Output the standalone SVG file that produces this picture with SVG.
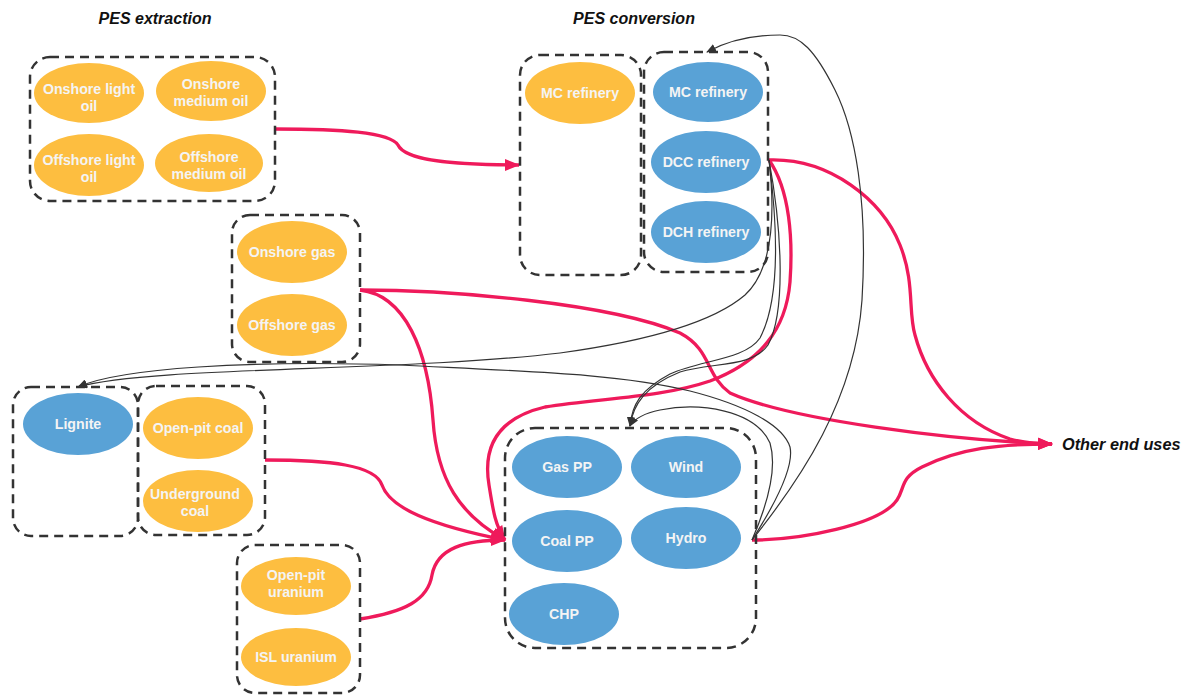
<svg xmlns="http://www.w3.org/2000/svg" width="1189" height="695" viewBox="0 0 1189 695">
<style>
.grp{fill:none;stroke:#333;stroke-width:2.5;stroke-dasharray:9 6}
.y{fill:#FDBE40}
.b{fill:#59A2D6}
.t{font-family:"Liberation Sans",Arial,sans-serif;font-weight:bold;font-size:14.2px;fill:#F4F4F4;text-anchor:middle}
.h{font-family:"Liberation Sans",Arial,sans-serif;font-weight:bold;font-style:italic;font-size:16px;fill:#111}
.r{fill:none;stroke:#EF1A5B;stroke-width:3.3}
.k{fill:none;stroke:#333;stroke-width:1.2}
</style>
<defs>
<marker id="ar" markerUnits="userSpaceOnUse" markerWidth="15" markerHeight="12" refX="14" refY="6" orient="auto"><path d="M0,0 L15,6 L0,12 z" fill="#EF1A5B"/></marker>
<marker id="ab" markerUnits="userSpaceOnUse" markerWidth="10" markerHeight="8" refX="9" refY="4" orient="auto"><path d="M0,0 L10,4 L0,8 z" fill="#333"/></marker>
</defs>
<rect width="1189" height="695" fill="#fff"/>
<text class="h" x="155" y="24" text-anchor="middle">PES extraction</text>
<text class="h" x="634" y="24" text-anchor="middle">PES conversion</text>
<text class="h" x="1062" y="450" style="font-size:16.3px">Other end uses</text>

<g id="connectors">
<path class="r" d="M275,129 C340,129 390,132 398,145 C405,160 450,165 519,165" marker-end="url(#ar)"/>
<path class="r" d="M769,160 C830,158 882,200 900,245 C915,282 908,312 915,335 C927,380 960,422 1010,439 C1025,443 1040,444 1052,444" marker-end="url(#ar)"/>
<path class="r" d="M769,160 C790,190 793,240 790,282 C786,330 760,362 710,381 C660,398 600,398 545,407 C490,420 484,455 489,485 C493,510 495,525 505,540" marker-end="url(#ar)"/>
<path class="r" d="M360,290 C450,290 610,303 680,333 C712,350 705,375 730,393 C790,420 950,440 1052,444" marker-end="url(#ar)"/>
<path class="r" d="M360,290 C405,295 428,350 433,420 C437,480 460,515 505,540" marker-end="url(#ar)"/>
<path class="r" d="M265,460 C330,460 375,465 382,485 C390,508 430,525 505,540" marker-end="url(#ar)"/>
<path class="r" d="M360,619 C405,612 428,600 432,575 C437,548 465,540 505,540" marker-end="url(#ar)"/>
<path class="r" d="M752,540 C800,540 880,525 897,500 C905,488 900,478 922,467 C960,448 1000,444 1052,444" marker-end="url(#ar)"/>

<path class="k" d="M769,160 C776,220 772,270 745,295 C710,325 640,342 560,353 C400,372 150,366 78,387" marker-end="url(#ab)"/>
<path class="k" d="M769,160 C778,230 780,300 760,338 C745,360 700,360 670,374 C640,390 632,405 630,426" marker-end="url(#ab)"/>
<path class="k" d="M769,160 C782,230 786,312 768,345 C752,368 712,362 680,372 C645,386 633,405 630,426"/>
<path class="k" d="M752,540 C765,510 778,470 770,443 C755,410 700,402 660,410 C645,413 635,418 630,426" marker-end="url(#ab)"/>
<path class="k" d="M752,540 C768,515 795,470 790,447 C783,425 745,405 690,391 C620,374 540,372 400,365 C250,360 120,368 78,387" marker-end="url(#ab)"/>
<path class="k" d="M752,540 C800,480 855,400 862,300 C868,200 855,130 835,90 C815,50 800,35 780,35 C750,35 725,42 707,52" marker-end="url(#ab)"/>
</g>

<g id="oil-group">
<rect class="grp" x="30" y="57" width="245" height="144" rx="20"/>
<g id="onshore-light-oil"><ellipse class="y" cx="89" cy="93" rx="55" ry="30"/><text class="t" x="89" y="94">Onshore light</text><text class="t" x="89" y="111">oil</text></g>
<g id="onshore-medium-oil"><ellipse class="y" cx="211" cy="91" rx="55" ry="30"/><text class="t" x="211" y="89">Onshore</text><text class="t" x="211" y="106">medium oil</text></g>
<g id="offshore-light-oil"><ellipse class="y" cx="89" cy="165" rx="55" ry="31"/><text class="t" x="89" y="165">Offshore light</text><text class="t" x="89" y="182">oil</text></g>
<g id="offshore-medium-oil"><ellipse class="y" cx="209" cy="163" rx="54" ry="29"/><text class="t" x="209" y="162">Offshore</text><text class="t" x="209" y="179">medium oil</text></g>
</g>

<g id="mc-refinery-extraction">
<rect class="grp" x="520" y="55" width="121" height="220" rx="20"/>
<ellipse class="y" cx="580" cy="93" rx="55" ry="31"/><text class="t" x="580" y="98">MC refinery</text>
</g>

<g id="refinery-group">
<rect class="grp" x="644" y="52" width="124" height="220" rx="20"/>
<g id="mc-refinery"><ellipse class="b" cx="708" cy="92" rx="55" ry="30"/><text class="t" x="708" y="97">MC refinery</text></g>
<g id="dcc-refinery"><ellipse class="b" cx="706" cy="162" rx="55" ry="31"/><text class="t" x="706" y="167">DCC refinery</text></g>
<g id="dch-refinery"><ellipse class="b" cx="706" cy="232" rx="55" ry="31"/><text class="t" x="706" y="237">DCH refinery</text></g>
</g>

<g id="gas-group">
<rect class="grp" x="232" y="215" width="128" height="147" rx="18"/>
<g id="onshore-gas"><ellipse class="y" cx="292" cy="252" rx="55" ry="31"/><text class="t" x="292" y="257">Onshore gas</text></g>
<g id="offshore-gas"><ellipse class="y" cx="292" cy="325" rx="55" ry="31"/><text class="t" x="292" y="330">Offshore gas</text></g>
</g>

<g id="lignite-group">
<rect class="grp" x="13" y="387" width="125" height="149" rx="18"/>
<g id="lignite"><ellipse class="b" cx="78" cy="424" rx="55" ry="31"/><text class="t" x="78" y="429">Lignite</text></g>
</g>

<g id="coal-group">
<rect class="grp" x="138" y="386" width="127" height="149" rx="18"/>
<g id="open-pit-coal"><ellipse class="y" cx="198" cy="428" rx="55" ry="31"/><text class="t" x="198" y="433">Open-pit coal</text></g>
<g id="underground-coal"><ellipse class="y" cx="198" cy="501" rx="55" ry="31"/><text class="t" x="195" y="499">Underground</text><text class="t" x="195" y="516">coal</text></g>
</g>

<g id="uranium-group">
<rect class="grp" x="237" y="545" width="123" height="148" rx="18"/>
<g id="open-pit-uranium"><ellipse class="y" cx="296" cy="586" rx="55" ry="29"/><text class="t" x="296" y="580">Open-pit</text><text class="t" x="296" y="597">uranium</text></g>
<g id="isl-uranium"><ellipse class="y" cx="296" cy="657" rx="55" ry="29"/><text class="t" x="296" y="662">ISL uranium</text></g>
</g>

<g id="pp-group">
<rect class="grp" x="505" y="428" width="251" height="220" rx="30"/>
<g id="gas-pp"><ellipse class="b" cx="567" cy="467" rx="55" ry="31"/><text class="t" x="567" y="472">Gas PP</text></g>
<g id="wind"><ellipse class="b" cx="686" cy="467" rx="55" ry="31"/><text class="t" x="686" y="472">Wind</text></g>
<g id="coal-pp"><ellipse class="b" cx="567" cy="541" rx="55" ry="31"/><text class="t" x="567" y="546">Coal PP</text></g>
<g id="hydro"><ellipse class="b" cx="686" cy="538" rx="55" ry="31"/><text class="t" x="686" y="543">Hydro</text></g>
<g id="chp"><ellipse class="b" cx="564" cy="614" rx="55" ry="31"/><text class="t" x="564" y="619">CHP</text></g>
</g>
</svg>
